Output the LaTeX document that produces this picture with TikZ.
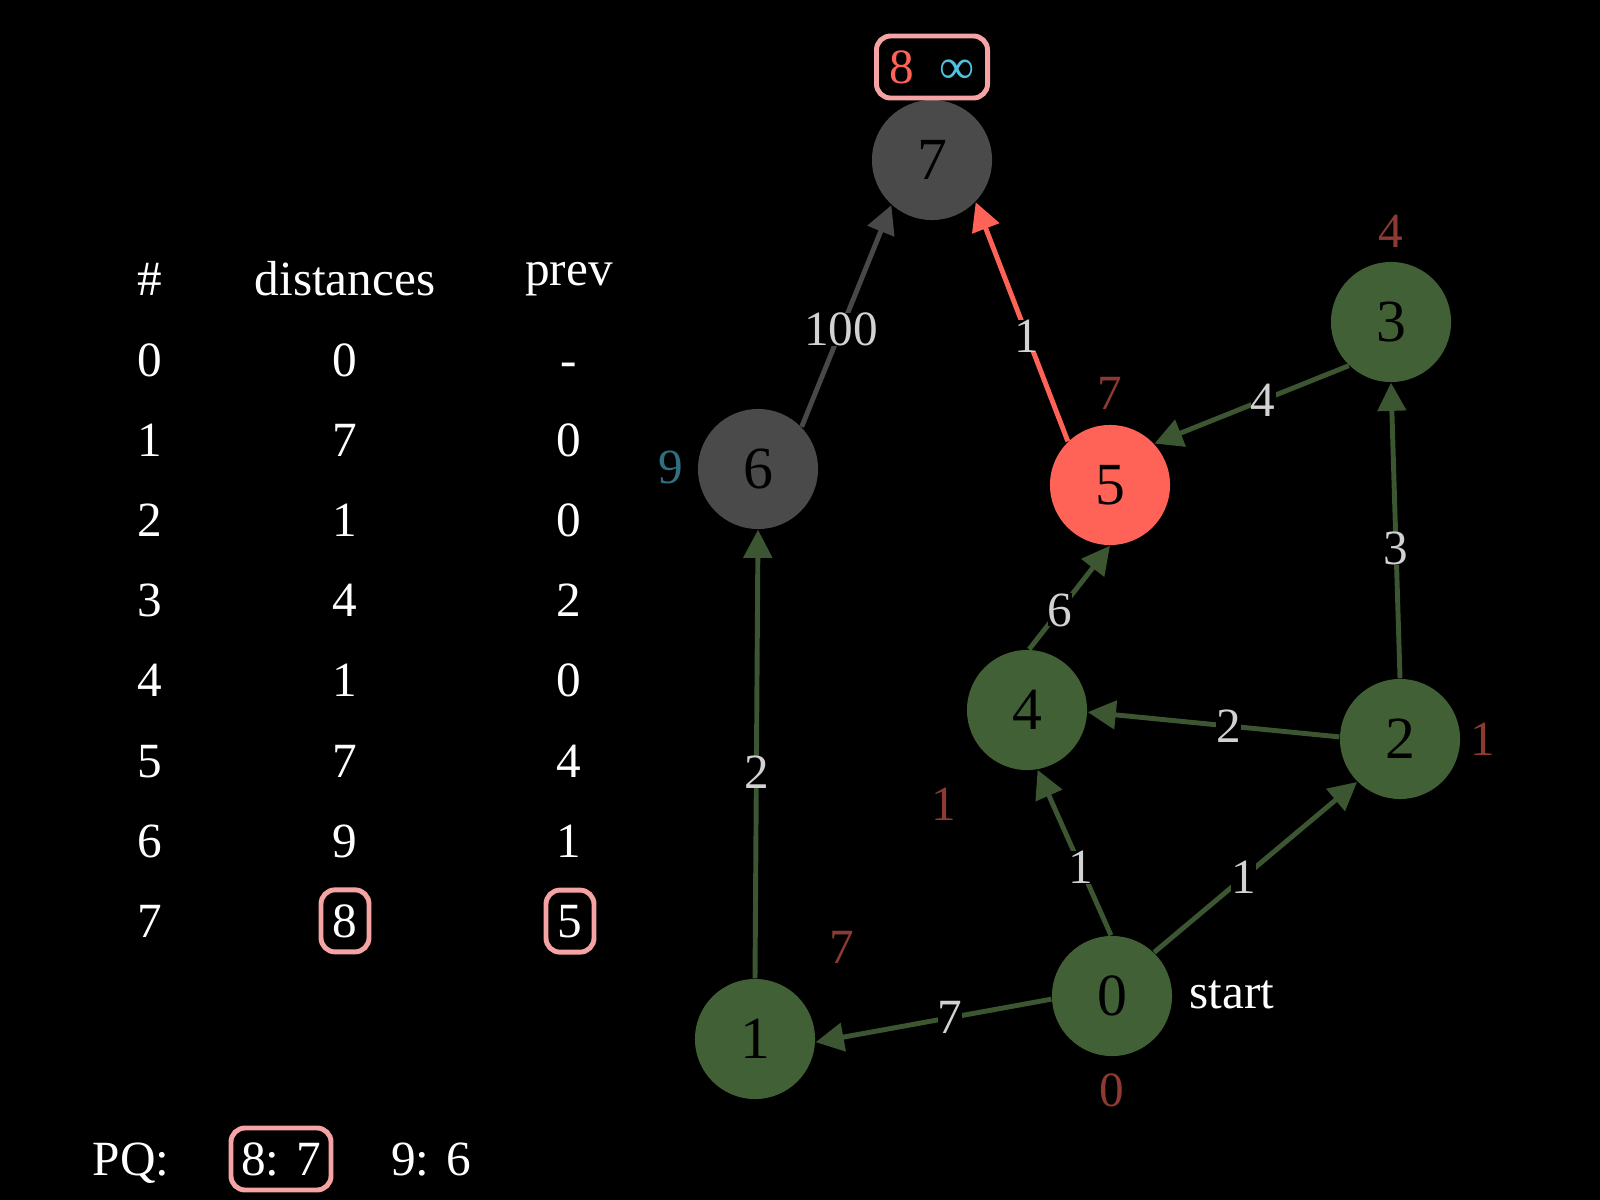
\documentclass[tikz,border=0pt]{standalone}
\usepackage{fontspec}
\setmainfont{Liberation Serif}
\usepackage{tikz}
\usetikzlibrary{arrows.meta}
\definecolor{nodeGreen}{RGB}{66, 96, 53}
\definecolor{edgeGreen}{RGB}{59, 86, 48}
\definecolor{nodeGray}{RGB}{74, 74, 74}
\definecolor{edgeGray}{RGB}{72, 72, 72}
\definecolor{tomatoRed}{RGB}{255, 99, 87}
\definecolor{boxPink}{RGB}{245, 163, 163}
\definecolor{distRed}{RGB}{140, 58, 50}
\definecolor{distTeal}{RGB}{47, 111, 128}
\definecolor{infCyan}{RGB}{77, 195, 224}
\definecolor{labelGray}{RGB}{210, 210, 210}

\begin{document}
\begin{tikzpicture}[x=0.01cm, y=-0.01cm,
    every node/.style={font=\fontsize{14}{16}\selectfont, text=white},
    vertex/.style={circle, fill=nodeGreen, minimum size=1.2cm, inner sep=0pt,
      font=\fontsize{17}{20}\selectfont, text=black},
    road/.style={draw=edgeGreen, line width=1.4pt, -{Triangle[length=8pt, width=8pt]}},
    wt/.style={fill=black, text=labelGray, inner sep=0pt, pos=0.44},
    dist/.style={text=distRed},
    hilite/.style={draw=boxPink, line width=1.4pt, rounded corners=4pt,
      minimum height=0.62cm, inner sep=2pt}]

  \fill[black] (0, 0) rectangle (1600, 1200);
  \useasboundingbox (0, 0) rectangle (1600, 1200);

  % table
  \node[anchor=base] (hNum) at (150, 295) {\#};
  \node[anchor=base] (hDist) at (345, 295) {distances};
  \node[anchor=base] (hPrev) at (569, 285) {prev};
  \foreach \d/\p [count=\r from 0] in {0/-, 7/0, 1/0, 4/2, 1/0, 7/4, 9/1} {
    \node[anchor=base] (num\r) at (150, 376 + 80.2*\r) {\r};
    \node[anchor=base] (dist\r) at (345, 376 + 80.2*\r) {\d};
    \node[anchor=base] (prev\r) at (569, 376 + 80.2*\r) {\p};
  }
  \node[anchor=base] (num7) at (150, 937) {7};
  \node[hilite, anchor=base, minimum width=0.48cm] (dist7) at (345, 937) {8};
  \node[hilite, anchor=base, minimum width=0.48cm] (prev7) at (570, 937) {5};

  % priority queue
  \node[anchor=base] (pq) at (131, 1175) {PQ:};
  \node[hilite, anchor=base, minimum width=1.0cm] (pqA) at (281, 1175) {8: 7};
  \node[anchor=base] (pqB) at (431, 1175) {9: 6};

  % graph
  \node[vertex, fill=nodeGray] (v7) at (932, 160) {7};
  \node[vertex, fill=nodeGray] (v6) at (758, 469) {6};
  \node[vertex, fill=tomatoRed] (v5) at (1110, 485) {5};
  \node[vertex] (v3) at (1391, 322) {3};
  \node[vertex] (v4) at (1027, 710) {4};
  \node[vertex] (v2) at (1400, 739) {2};
  \node[vertex] (v0) at (1112, 996) {0};
  \node[vertex] (v1) at (755, 1039) {1};

  \node[hilite, minimum width=1.11cm] (q7) at (932, 67)
    {\textcolor{tomatoRed}{8}\hspace{7pt}\textcolor{infCyan}{∞}};

  \node[dist] (d3) at (1391, 231) {4};
  \node[dist] (d5) at (1110, 393) {7};
  \node[text=distTeal] (d6) at (671, 467) {9};
  \node[dist] (d4) at (944, 804) {1};
  \node[dist] (d2) at (1483, 739) {1};
  \node[dist] (d0) at (1112, 1090) {0};
  \node[dist] (d1) at (842, 947) {7};
  \node (st) at (1232, 995) {start};

  \draw[road, draw=edgeGray] (v6.44) -- node[wt] {100} (v7.228);
  \draw[road, draw=tomatoRed] (v5.134) -- node[wt] {1} (v7.316);
  \draw[road] (v3.226) -- node[wt] {4} (v5.43);
  \draw[road] (v2.90) -- node[wt] {3} (v3.270);
  \draw[road] (v4.88) -- node[wt, pos=0.38] {6} (v5.270);
  \draw[road] (v2.178) -- node[wt] {2} (v4.358);
  \draw[road] (v0.91) -- node[wt, pos=0.41] {1} (v4.280);
  \draw[road] (v0.46) -- node[wt] {1} (v2.225);
  \draw[road] (v0.183) -- node[wt, pos=0.43] {7} (v1.357);
  \draw[road] (v1.90) -- node[wt, pos=0.46] {2} (v6.270);

\end{tikzpicture}
\end{document}
